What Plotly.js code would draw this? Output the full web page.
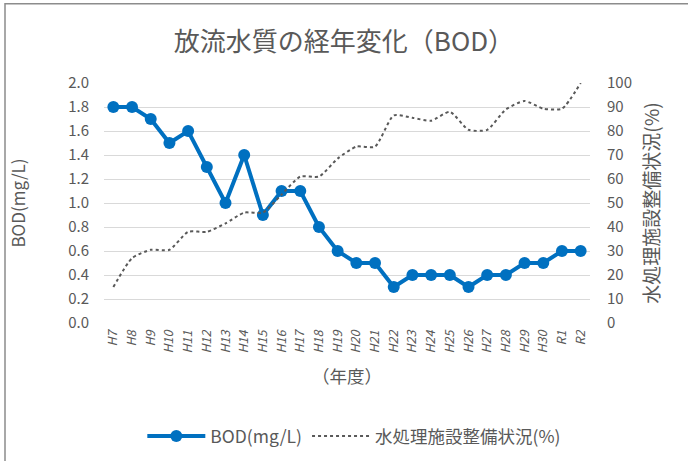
<!DOCTYPE html>
<html>
<head>
<meta charset="utf-8">
<script src="https://cdn.plot.ly/plotly-3.0.1.min.js"></script>
<style>
html,body{margin:0;padding:0;background:#fff;}
#chart{width:688px;height:461px;}
</style>
</head>
<body>
<div id="chart"></div>
<script>
const years = ["H7","H8","H9","H10","H11","H12","H13","H14","H15","H16","H17","H18","H19","H20","H21","H22","H23","H24","H25","H26","H27","H28","H29","H30","R1","R2"];
const bod = [1.8,1.8,1.7,1.5,1.6,1.3,1.0,1.4,0.9,1.1,1.1,0.8,0.6,0.5,0.5,0.3,0.4,0.4,0.4,0.3,0.4,0.4,0.5,0.5,0.6,0.6];
const facility = [15,27,30.5,30.5,38,38,41.5,46,46,53.5,61,61,68.5,73.5,73.5,86.5,85.5,84.3,88,80.5,80.5,89,92.5,89.3,89.3,100];
const leftTicks = [0,0.2,0.4,0.6,0.8,1.0,1.2,1.4,1.6,1.8,2.0];
const rightTicks = [0,10,20,30,40,50,60,70,80,90,100];

const txt = '#595959';
const fam = '"Noto Sans CJK JP", "Noto Sans", sans-serif';

const traces = [
  {
    x: years, y: bod, name: 'BOD(mg/L)', type: 'scatter', mode: 'lines+markers',
    line: {color: '#0070C0', width: 4},
    marker: {color: '#0070C0', size: 12},
    yaxis: 'y'
  },
  {
    x: years, y: facility, name: '水処理施設整備状況(%)', type: 'scatter', mode: 'lines',
    line: {color: '#595959', width: 2, dash: 'dot', shape: 'spline', smoothing: 0.6},
    yaxis: 'y2'
  }
];

const layout = {
  width: 688, height: 461,
  margin: {l: 104, r: 98, t: 83, b: 138},
  paper_bgcolor: '#fff', plot_bgcolor: '#fff',
  font: {family: fam, color: txt},
  title: {text: '放流水質の経年変化（BOD）', font: {size: 26, color: txt, family: fam}, x: 0.5, xanchor: 'center', y: 0.91, yanchor: 'middle', yref: 'container'},
  xaxis: {
    type: 'category', range: [-0.5, 25.5], showgrid: false, showline: false, zeroline: false,
    tickangle: -90, tickfont: {size: 12.5, color: txt, style: 'italic'}, ticks: '', ticklabelstandoff: 4,
    title: {text: '（年度）', font: {size: 17.5, color: txt}, standoff: 18},
    automargin: false
  },
  yaxis: {
    range: [0, 2.0], tickvals: leftTicks, ticktext: leftTicks.map(v => v.toFixed(1)),
    showgrid: true, gridcolor: '#d9d9d9', gridwidth: 1, zeroline: false, showline: false,
    tickfont: {size: 15, color: txt}, ticks: '', ticklabelstandoff: 14,
    title: {text: 'BOD(mg/L)', font: {size: 17, color: txt}, standoff: 38},
    automargin: false
  },
  yaxis2: {
    range: [0, 100], tickvals: rightTicks, overlaying: 'y', side: 'right',
    showgrid: false, zeroline: false, showline: false,
    tickfont: {size: 15, color: txt}, ticks: '', ticklabelstandoff: 16,
    title: {text: '水処理施設整備状況(%)', font: {size: 19, color: txt}, standoff: 14},
    automargin: false
  },
  legend: {
    orientation: 'h', xref: 'container', yref: 'container', x: 0.515, xanchor: 'center', y: 0.054, yanchor: 'middle',
    font: {size: 17.5, color: txt}, itemwidth: 58, traceorder: 'normal'
  },
  shapes: [
    {type: 'rect', xref: 'paper', yref: 'paper', x0: -0.2037, x1: 2, y0: -2, y1: 1.33,
     line: {color: '#8c8c8c', width: 1.5}, fillcolor: 'rgba(0,0,0,0)', layer: 'below'}
  ],
  showlegend: true
};

Plotly.newPlot('chart', traces, layout, {displayModeBar: false, staticPlot: true});
</script>
</body>
</html>
